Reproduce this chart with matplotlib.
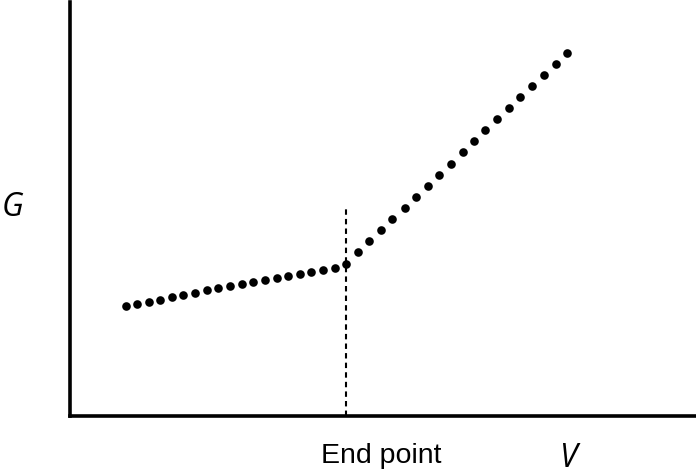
import matplotlib.pyplot as plt

# dotted curve (arbitrary units)
v_low = [56, 67, 79, 90, 102, 113, 125, 137, 148, 160, 172, 183, 195, 207, 218, 230, 241, 253, 265, 276]
g_low = [110, 112, 114, 116.5, 119, 121, 123.5, 126, 128, 130.5, 132.5, 134.5, 136.5, 138.5, 140.5, 142.5, 144.5, 146.5, 148.5, 152]
v_high = [288, 299, 311, 322, 335, 346, 358, 369, 381, 393, 404, 415, 427, 439, 450, 462, 474, 486, 497]
g_high = [164, 175, 186, 197, 208, 219, 230, 241, 252, 264, 275, 286, 297, 308, 319, 330, 341, 352, 363]

end_v = 276
dash_top = 207

fig = plt.figure(figsize=(6.96, 4.76), dpi=100)
ax = fig.add_axes([70 / 696, 60 / 476, 626 / 696, 414 / 476])
ax.set_xlim(0, 626)
ax.set_ylim(0, 414)

ax.plot(v_low + v_high, g_low + g_high, 'o', color='black', markersize=6.2, markeredgewidth=0)
ax.vlines(end_v, 0, dash_top, colors='black', linestyles=(0, (2.6, 2.0)), linewidth=1.5)

for side in ['top', 'right']:
    ax.spines[side].set_visible(False)
for side in ['left', 'bottom']:
    ax.spines[side].set_linewidth(2.6)
    ax.spines[side].set_capstyle('projecting')
ax.set_xticks([])
ax.set_yticks([])

ax.text(end_v + 35, -47, 'End point', ha='center', va='baseline', fontsize=20.5,
        family='Liberation Sans', clip_on=False)
ax.text(498, -51, 'V', ha='center', va='baseline', fontsize=23, style='italic',
        family='Open Sans', clip_on=False)
ax.text(-57, 209, 'G', ha='center', va='center', fontsize=23, style='italic',
        family='Open Sans', clip_on=False)

fig.savefig('out.png', dpi=100)
